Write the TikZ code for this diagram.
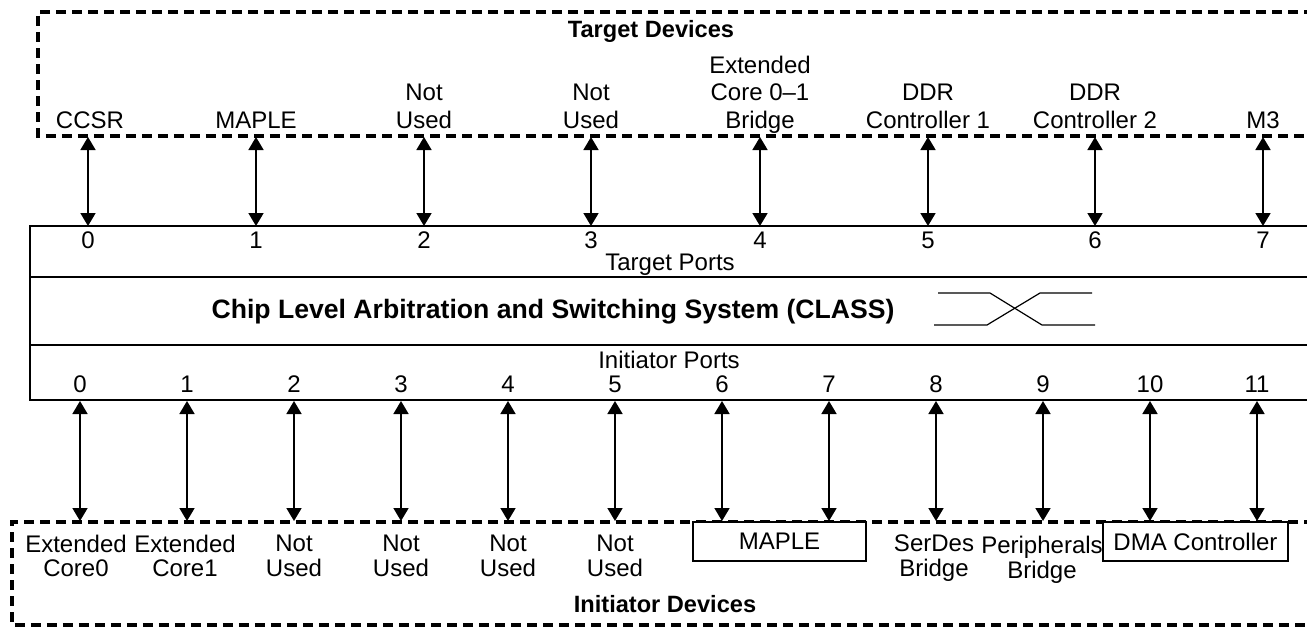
\documentclass[tikz,border=0pt]{standalone}
\usepackage{fontspec}
\setmainfont{Liberation Sans}
\usetikzlibrary{arrows.meta}
\newcommand{\mlbl}[1]{\begin{tabular}[b]{@{}c@{}}#1\end{tabular}}
\begin{document}
\begin{tikzpicture}[x=0.5pt,y=-0.5pt,
  toplbl/.style={font=\fontsize{12}{13.75}\selectfont, inner sep=0pt, anchor=base},
  botlbl/.style={font=\fontsize{12}{12}\selectfont, inner sep=0pt, anchor=base},
  headlbl/.style={font=\fontsize{11.8}{14}\selectfont\bfseries, inner sep=0pt, anchor=base},
  titlelbl/.style={font=\fontsize{13.3}{16}\selectfont\bfseries, inner sep=0pt, anchor=base},
  devbox/.style={draw, line width=1.6pt, dash pattern=on 4.8pt off 3.2pt},
  mainline/.style={line width=1pt},
  conn/.style={{Triangle[width=7.5pt,length=6.5pt]}-{Triangle[width=7.5pt,length=6.5pt]}, line width=0.9pt},
  solidbox/.style={draw, line width=0.9pt, inner sep=0pt, font=\fontsize{12}{14}\selectfont, fill=white},
  xsym/.style={line width=0.6pt}
]
\useasboundingbox (0,0) rectangle (1307,627);
\clip (0,0) rectangle (1307,627);

% ---------- Target devices (dashed) ----------
\draw[devbox] (1330,12) -- (38,12) -- (38,136) -- (1330,136);
\node[headlbl] (tdev) at (651,37) {Target Devices};

\foreach \i/\x in {0/88,1/256,2/424,3/591,4/760,5/928,6/1095,7/1263}{
  \coordinate (td\i) at (\x,137);
  \coordinate (tp\i) at (\x,226);
}
\node[toplbl] (tl0) at (90,128) {CCSR};
\node[toplbl] (tl1) at (256,128) {MAPLE};
\node[toplbl] (tl2) at (424,128) {\mlbl{Not\\Used}};
\node[toplbl] (tl3) at (591,128) {\mlbl{Not\\Used}};
\node[toplbl] (tl4) at (760,128) {\mlbl{Extended\\Core 0--1\\Bridge}};
\node[toplbl] (tl5) at (928,128) {\mlbl{DDR\\Controller 1}};
\node[toplbl] (tl6) at (1095,128) {\mlbl{DDR\\Controller 2}};
\node[toplbl] (tl7) at (1263,128) {M3};

% ---------- CLASS block ----------
\draw[mainline] (1330,226) -- (30,226) -- (30,400) -- (1330,400);
\draw[mainline] (30,277) -- (1330,277);
\draw[mainline] (30,345) -- (1330,345);

\foreach \i/\x in {0/88,1/256,2/424,3/591,4/760,5/928,6/1095,7/1263}{
  \node[toplbl] (tn\i) at (\x,248) {\i};
}
\node[toplbl] (tports) at (670,270) {Target Ports};
\node[titlelbl] (title) at (553,318) {Chip Level Arbitration and Switching System (CLASS)};
\draw[xsym] (938,293) -- (990,293) -- (1042,325) -- (1095,325);
\draw[xsym] (934,325) -- (987,325) -- (1040,293) -- (1092,293);
\node[toplbl] (iports) at (669,368) {Initiator Ports};

\foreach \i/\x in {0/80,1/187,2/294,3/401,4/508,5/615,6/722,7/829,8/936,9/1043,10/1150,11/1257}{
  \node[toplbl] (bn\i) at (\x,392) {\i};
  \coordinate (bp\i) at (\x,401);
  \coordinate (bd\i) at (\x,521);
}

% ---------- Initiator devices (dashed) ----------
\draw[devbox] (1330,522) -- (12,522) -- (12,625) -- (1330,625);
\node[headlbl] (idev) at (665,612) {Initiator Devices};

\node[botlbl] (bl0) at (76,576) {\mlbl{Extended\\Core0}};
\node[botlbl] (bl1) at (185,576) {\mlbl{Extended\\Core1}};
\node[botlbl] (bl2) at (294,576) {\mlbl{Not\\Used}};
\node[botlbl] (bl3) at (401,576) {\mlbl{Not\\Used}};
\node[botlbl] (bl4) at (508,576) {\mlbl{Not\\Used}};
\node[botlbl] (bl5) at (615,576) {\mlbl{Not\\Used}};
\node[solidbox, minimum width=86.5pt, minimum height=19.5pt] (maple) at (779.5,541.5) {MAPLE};
\node[botlbl] (bl8) at (934,576) {\mlbl{SerDes\\Bridge}};
\node[botlbl] (bl9) at (1042,578) {\mlbl{Peripherals\\Bridge}};
\node[solidbox, minimum width=92.5pt, minimum height=19.5pt] (dma) at (1195.5,541.5) {DMA Controller};

% ---------- connectors ----------
\foreach \i in {0,...,7}{ \draw[conn] (td\i) -- (tp\i); }
\foreach \i in {0,...,11}{ \draw[conn] (bp\i) -- (bd\i); }
\end{tikzpicture}
\end{document}
